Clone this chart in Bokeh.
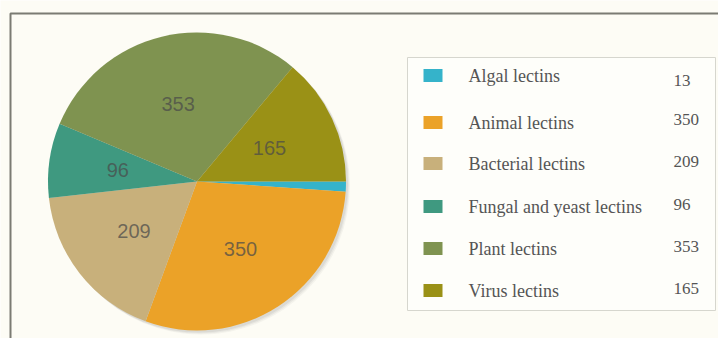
import numpy as np
from bokeh.plotting import figure
from bokeh.models import Range1d, ColumnDataSource
from bokeh.core.properties import value
from bokeh.embed import file_html
from bokeh.resources import INLINE

# ---- data ----
categories = ["Algal lectins", "Animal lectins", "Bacterial lectins",
              "Fungal and yeast lectins", "Plant lectins", "Virus lectins"]
counts = [13, 350, 209, 96, 353, 165]
colors = ["#35b3ca", "#eba228", "#c8b07b", "#3f9980", "#7f9350", "#9a9116"]

# ---- layout (pixels, top-left origin) ----
W, H = 718, 338
CX, CY, R = 196.5, 181.0, 149.0
LABEL_R = 80.0
ROW_Y = [75, 122, 163, 206, 248, 290]
VAL_Y = [80, 119, 161, 204, 246, 288]

def fy(y):
    return H - y

p = figure(width=W, height=H, output_backend="svg", toolbar_location=None,
           x_range=Range1d(0, W), y_range=Range1d(0, H), min_border=0)
p.axis.visible = False
p.grid.visible = False
p.outline_line_color = None
p.background_fill_color = "#fdfcf5"
p.border_fill_color = "#fdfcf5"

# outer frame (top and left edges visible)
p.line(x=[10, 10, W + 20], y=[-20, fy(13), fy(13)], line_color="#7b7b73", line_width=2)

# pie shadow
for off, a in [(4, 0.05), (3, 0.07), (2, 0.09)]:
    p.circle(x=[CX + off], y=[fy(CY + off)], radius=R, fill_color="#555555",
             fill_alpha=a, line_color=None)

# wedges (clockwise from 3 o'clock)
vals = np.array(counts, dtype=float)
total = vals.sum()
cum = np.concatenate([[0.0], np.cumsum(vals)])
start_cw = -cum[:-1] / total * 2 * np.pi
end_cw = -cum[1:] / total * 2 * np.pi
src = ColumnDataSource(dict(start=end_cw, end=start_cw, color=colors))
p.wedge(x=CX, y=fy(CY), radius=R, start_angle="start", end_angle="end",
        fill_color="color", line_color=None, source=src)

# slice labels
mid = (start_cw + end_cw) / 2
lab_mask = vals >= 50
lx = CX + LABEL_R * np.cos(mid)
ly = fy(CY) + LABEL_R * np.sin(mid)
lsrc = ColumnDataSource(dict(x=lx[lab_mask], y=ly[lab_mask],
                             t=[str(c) for c, m in zip(counts, lab_mask) if m]))
p.text(x="x", y="y", text="t", source=lsrc, text_align="center",
       text_baseline="middle", text_font=value("Liberation Sans"),
       text_font_size="20px", text_color="#4a4a4a", text_alpha=0.72)

# legend box
p.quad(left=[407], right=[715], top=[fy(57)], bottom=[fy(310)],
       fill_color="#fefefa", line_color="#d6d6ce", line_width=1)

sw_src = ColumnDataSource(dict(x=[432.5] * len(categories), y=[fy(v) for v in ROW_Y], c=colors))
p.rect(x="x", y="y", width=19, height=13, fill_color="c", line_color=None, source=sw_src)

tsrc = ColumnDataSource(dict(x=[468] * len(categories), y=[fy(v) for v in ROW_Y], t=categories))
p.text(x="x", y="y", text="t", source=tsrc, text_align="left", text_baseline="middle",
       text_font=value("Liberation Serif"), text_font_size="18px", text_color="#555555")

vsrc = ColumnDataSource(dict(x=[673] * len(counts), y=[fy(v) for v in VAL_Y],
                             t=[str(c) for c in counts]))
p.text(x="x", y="y", text="t", source=vsrc, text_align="left", text_baseline="middle",
       text_font=value("Liberation Serif"), text_font_size="17px", text_color="#555555")

open("out.html", "w").write(file_html(p, INLINE))
